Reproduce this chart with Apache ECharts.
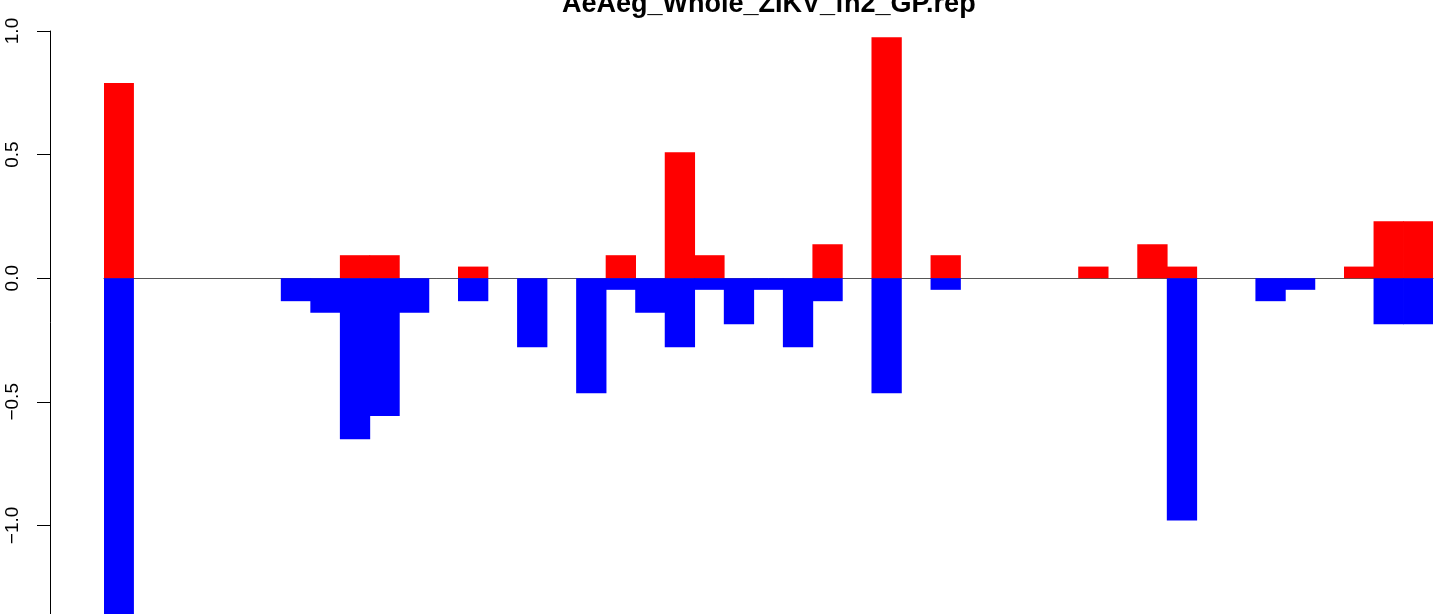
<!DOCTYPE html>
<html>
<head>
<meta charset="utf-8">
<script src="https://cdn.jsdelivr.net/npm/echarts@6/dist/echarts.min.js"></script>
<style>
html,body{margin:0;padding:0;background:#fff;}
#chart{width:1436px;height:614px;}
</style>
</head>
<body>
<div id="chart"></div>
<script>
// Data
const titleText = "AeAeg_Whole_ZIKV_fn2_GP.rep";
const categories = Array.from({length: 45}, (_, i) => String(i + 1));
const redValues = [
  0.79, null, null, null, null, null, null, null, 0.093, 0.093,
  null, null, 0.047, null, null, null, null, 0.093, null, 0.51,
  0.093, null, null, null, 0.137, null, 0.975, null, 0.093, null,
  null, null, null, 0.047, null, 0.137, 0.047, null, null, null,
  null, null, 0.047, 0.23, 0.23
];
const blueValues = [
  -1.45, null, null, null, null, null, -0.093, -0.14, -0.651, -0.557,
  -0.14, null, -0.093, null, -0.279, null, -0.465, -0.047, -0.14, -0.279,
  -0.047, -0.186, -0.047, -0.279, -0.093, null, -0.465, null, -0.047, null,
  null, null, null, null, null, null, -0.98, null, null, -0.093,
  -0.047, null, null, -0.186, -0.186
];
const yTicks = [-1.5, -1.0, -0.5, 0.0, 0.5, 1.0];

const chart = echarts.init(document.getElementById('chart'), null, {renderer: 'canvas'});
const option = {
  animation: false,
  backgroundColor: '#ffffff',
  title: {
    text: titleText,
    left: 562,
    top: -9,
    padding: 0,
    textStyle: {
      fontFamily: 'Liberation Sans, Arial, sans-serif',
      fontWeight: 'bold',
      fontSize: 27,
      color: '#000'
    }
  },
  grid: {
    left: 104,
    top: 31,
    width: 1329,
    height: 618,
    containLabel: false,
    outerBoundsMode: 'none'
  },
  xAxis: {
    type: 'category',
    data: categories,
    axisLine: {show: true, onZero: true, lineStyle: {color: '#555555', width: 1}},
    axisTick: {show: false},
    axisLabel: {show: false},
    splitLine: {show: false}
  },
  yAxis: {
    type: 'value',
    min: yTicks[0],
    max: yTicks[yTicks.length - 1],
    interval: 0.5,
    offset: 54,
    axisLine: {show: true, lineStyle: {color: '#000', width: 1}},
    axisTick: {show: true, length: 13, lineStyle: {color: '#000', width: 1}},
    splitLine: {show: false},
    axisLabel: {
      rotate: 90,
      margin: 28,
      fontFamily: 'Liberation Sans, Arial, sans-serif',
      fontSize: 19,
      color: '#000',
      formatter: function (v) {
        const s = Math.abs(v).toFixed(1);
        return v < 0 ? '\u2212' + s : s;
      }
    }
  },
  series: [
    {
      type: 'bar',
      data: redValues,
      itemStyle: {color: '#FF0000'},
      barWidth: 30.3,
      barGap: '-100%'
    },
    {
      type: 'bar',
      data: blueValues,
      itemStyle: {color: '#0000FF'},
      barWidth: 30.3,
      barGap: '-100%'
    }
  ]
};
chart.setOption(option);
</script>
</body>
</html>
